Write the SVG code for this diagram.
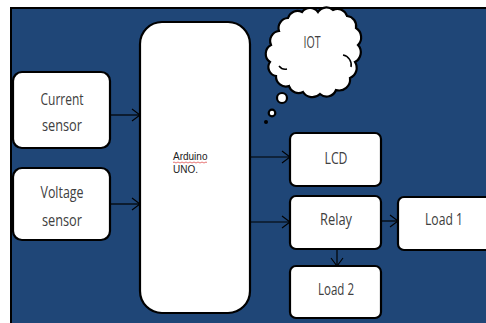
<svg xmlns="http://www.w3.org/2000/svg" width="486" height="323" viewBox="0 0 486 323">
<defs>
<style>
.box{fill:#fff;stroke:#000;stroke-width:2.2}
.lbl{font-family:"Open Sans","Noto Sans",sans-serif;font-size:17px;fill:#404040;text-anchor:middle}
.ard{font-family:"Liberation Sans",Arial,sans-serif;font-size:10px;fill:#222}
.con{stroke:#000;stroke-width:1.2;fill:none}
</style>
<marker id="ah" markerWidth="12" markerHeight="14" refX="9" refY="7" orient="auto" markerUnits="userSpaceOnUse">
<path d="M1,1 L9,7 L1,13" fill="none" stroke="#000" stroke-width="1.1"/>
</marker>
</defs>
<rect x="0" y="0" width="486" height="323" fill="#fff"/>
<rect x="11" y="8" width="476" height="316" fill="#1f4677" stroke="#000" stroke-width="2"/>
<g id="connectors">
<line class="con" x1="110" y1="115" x2="140" y2="115" marker-end="url(#ah)"/>
<line class="con" x1="110" y1="204" x2="140" y2="204" marker-end="url(#ah)"/>
<line class="con" x1="250" y1="157" x2="290" y2="157" marker-end="url(#ah)"/>
<line class="con" x1="250" y1="222" x2="290" y2="222" marker-end="url(#ah)"/>
<line class="con" x1="381" y1="221" x2="398" y2="221" marker-end="url(#ah)"/>
<line class="con" x1="337" y1="250" x2="337" y2="266" marker-end="url(#ah)"/>
</g>
<g id="current">
<rect class="box" x="13" y="72" width="97" height="76" rx="9"/>
<text class="lbl" x="62" y="105" textLength="43" lengthAdjust="spacingAndGlyphs">Current</text>
<text class="lbl" x="62" y="131" textLength="40" lengthAdjust="spacingAndGlyphs">sensor</text>
</g>
<g id="voltage">
<rect class="box" x="13" y="168" width="97" height="72" rx="9"/>
<text class="lbl" x="62" y="198" textLength="43" lengthAdjust="spacingAndGlyphs">Voltage</text>
<text class="lbl" x="62" y="226" textLength="40" lengthAdjust="spacingAndGlyphs">sensor</text>
</g>
<g id="arduino">
<rect class="box" x="140" y="22" width="110" height="291" rx="22"/>
<text class="ard" x="173" y="160">Arduino</text>
<path d="M173,162.5 q1,-1 2,0 t2,0 t2,0 t2,0 t2,0 t2,0 t2,0 t2,0 t2,0 t2,0 t2,0 t2,0 t2,0 t2,0 t2,0 t2,0 t2,0" fill="none" stroke="#e05050" stroke-width="0.8"/>
<text class="ard" x="173" y="173">UNO.</text>
</g>
<g id="iot">
<path class="box" d="M270,62 A10,10 0 0 1 271,45 A10,10 0 0 1 279,31 A10,10 0 0 1 288,18 A10,10 0 0 1 302,12 A10,10 0 0 1 318,12 A10,10 0 0 1 333,10 A10,10 0 0 1 347,16 A10,10 0 0 1 356,28 A11,11 0 0 1 358,45 A11,11 0 0 1 355,62 A11,11 0 0 1 350,78 A11,11 0 0 1 336,90 A10,10 0 0 1 320,94 A11,11 0 0 1 303,92 A10,10 0 0 1 289,86 A10,10 0 0 1 276,76 A9,9 0 0 1 270,62 Z"/>
<path d="M343,55 a10,10 0 0 1 8,12 M279,66 a8,8 0 0 0 8,3" fill="none" stroke="#000" stroke-width="1.5"/>
<circle class="box" cx="282" cy="98" r="5"/>
<circle class="box" cx="272" cy="113" r="3.3"/>
<circle cx="266" cy="122" r="2" fill="#000"/>
<text class="lbl" x="312" y="48" textLength="17" lengthAdjust="spacingAndGlyphs">IOT</text>
</g>
<g id="lcd">
<rect class="box" x="290" y="133" width="91" height="53" rx="6"/>
<text class="lbl" x="336" y="164" textLength="23" lengthAdjust="spacingAndGlyphs">LCD</text>
</g>
<g id="relay">
<rect class="box" x="290" y="196" width="91" height="53" rx="6"/>
<text class="lbl" x="336" y="225" textLength="32" lengthAdjust="spacingAndGlyphs">Relay</text>
</g>
<g id="load1">
<rect class="box" x="398" y="197" width="96" height="53" rx="6"/>
<text class="lbl" x="444" y="225" textLength="38" lengthAdjust="spacingAndGlyphs">Load 1</text>
</g>
<g id="load2">
<rect class="box" x="290" y="266" width="91" height="52" rx="6"/>
<text class="lbl" x="336" y="295" textLength="36" lengthAdjust="spacingAndGlyphs">Load 2</text>
</g>
</svg>
